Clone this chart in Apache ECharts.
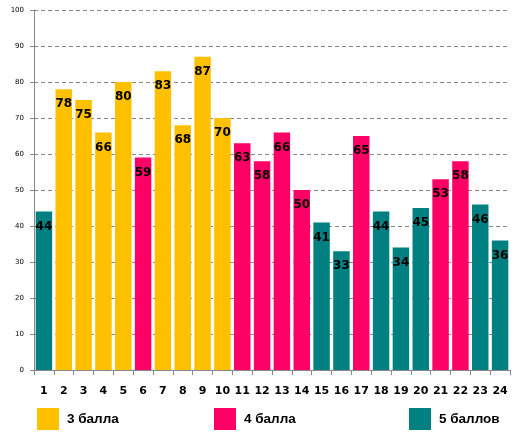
<!DOCTYPE html>
<html><head><meta charset="utf-8">
<script src="https://cdn.jsdelivr.net/npm/echarts@6/dist/echarts.min.js"></script>
<style>html,body{margin:0;padding:0;background:#fff}#c{width:519px;height:442px}</style>
</head><body><div id="c"></div>
<script>
const categories = ['1','2','3','4','5','6','7','8','9','10','11','12','13','14','15','16','17','18','19','20','21','22','23','24'];
const values = [44,78,75,66,80,59,83,68,87,70,63,58,66,50,41,33,65,44,34,45,53,58,46,36];
const grades = [5,3,3,3,3,4,3,3,3,3,4,4,4,4,5,5,4,5,5,5,4,4,5,5];
const seriesNames = ['3 балла','4 балла','5 баллов'];
const seriesGrades = [3,4,5];
const colors = ['#FFC000','#FF0066','#008080'];
const yTicks = {min:0, max:100, interval:10};

const series = seriesNames.map((name,i)=>({
  name, type:'bar', stack:'all', barCategoryGap:'17%',
  itemStyle:{color:colors[i]},
  label:{show:true, position:'insideTop', distance:9, color:'#000', fontWeight:'bold', fontSize:12, fontFamily:'DejaVu Sans'},
  data: values.map((v,j)=> grades[j]===seriesGrades[i] ? v : '-')
}));
const legendX = [37,214,409];
const legends = seriesNames.map((n,i)=>({
  data:[n], left:legendX[i], top:408, padding:0, icon:'rect', itemWidth:22, itemHeight:22, itemGap:8,
  selectedMode:false,
  textStyle:{fontSize:13.5, fontWeight:'bold', color:'#000', fontFamily:'Liberation Sans', padding:[0,0,0,3]}
}));
const chart = echarts.init(document.getElementById('c'));
chart.setOption({
  animation:false,
  legend: legends,
  grid:{left:34, right:9, top:10, bottom:72, containLabel:false},
  xAxis:{type:'category', data:categories,
    axisLine:{lineStyle:{color:'#888'}},
    axisTick:{show:true, length:5, lineStyle:{color:'#888'}},
    axisLabel:{interval:0, margin:16, color:'#000', fontWeight:'bold', fontSize:11, fontFamily:'DejaVu Sans'}},
  yAxis:{type:'value', min:yTicks.min, max:yTicks.max, interval:yTicks.interval,
    axisLine:{show:true, lineStyle:{color:'#888'}},
    axisTick:{show:true, length:4, lineStyle:{color:'#888'}},
    axisLabel:{margin:10, color:'#000', fontSize:7, fontFamily:'DejaVu Sans'},
    splitLine:{lineStyle:{color:'#888', type:[4,3]}}},
  series
});
</script></body></html>
